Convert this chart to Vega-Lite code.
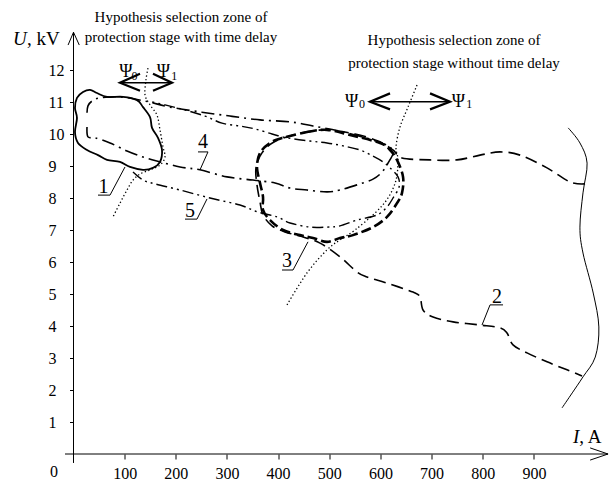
{
  "$schema": "https://vega.github.io/schema/vega-lite/v6.json",
  "width": 532,
  "height": 416,
  "autosize": {"type": "none"},
  "padding": {"left": 73.5, "top": 38, "right": 3.5, "bottom": 26},
  "background": "white",
  "config": {
    "view": {"stroke": null},
    "axis": {"domain": false, "grid": false, "labelFont": "Liberation Serif", "labelFontSize": 16, "labelColor": "#000", "tickColor": "#000", "tickWidth": 1, "labelOverlap": false, "title": null},
    "text": {"font": "Liberation Serif", "color": "#000"}
  },
  "datasets": {
    "c1": [
      {"k":0,"I":6.8,"U":11.13},{"k":1,"I":18.6,"U":11.31},{"k":2,"I":32.3,"U":11.38},{"k":3,"I":45.9,"U":11.28},{"k":4,"I":65.5,"U":11.16},{"k":5,"I":96.8,"U":11.16},{"k":6,"I":124.1,"U":11.06},{"k":7,"I":135.9,"U":10.84},{"k":8,"I":149.6,"U":10.53},{"k":9,"I":153.5,"U":10.19},{"k":10,"I":165.2,"U":9.88},{"k":11,"I":173,"U":9.5},{"k":12,"I":169.1,"U":9.13},{"k":13,"I":155.4,"U":8.94},{"k":14,"I":135.9,"U":8.88},{"k":15,"I":110.5,"U":8.97},{"k":16,"I":90.9,"U":9.13},{"k":17,"I":65.5,"U":9.19},{"k":18,"I":47.9,"U":9.34},{"k":19,"I":26.4,"U":9.5},{"k":20,"I":8.8,"U":9.72},{"k":21,"I":2.9,"U":10.06},{"k":22,"I":6.8,"U":10.5},{"k":23,"I":2.9,"U":10.81}
    ],
    "c2": [
      {"k":0,"I":1000,"U":8.44},{"k":1,"I":970.7,"U":8.5},{"k":2,"I":925.7,"U":8.94},{"k":3,"I":872.9,"U":9.34},{"k":4,"I":833.8,"U":9.44},{"k":5,"I":794.7,"U":9.34},{"k":6,"I":749.7,"U":9.19},{"k":7,"I":696.9,"U":9.19},{"k":8,"I":642.2,"U":9.25},{"k":9,"I":624.6,"U":9.5},{"k":10,"I":595.3,"U":9.78},{"k":11,"I":550.3,"U":10.0},{"k":12,"I":491.7,"U":10.13},{"k":13,"I":437,"U":10.0},{"k":14,"I":392,"U":9.75},{"k":15,"I":368.5,"U":9.41},{"k":16,"I":356.8,"U":8.94},{"k":17,"I":358.7,"U":8.41},{"k":18,"I":364.6,"U":7.88},{"k":19,"I":370.5,"U":7.47},{"k":20,"I":388.1,"U":7.13},{"k":21,"I":413.5,"U":6.94},{"k":22,"I":442.8,"U":6.81},{"k":23,"I":481.9,"U":6.59},{"k":24,"I":521,"U":6.16},{"k":25,"I":554.2,"U":5.69},{"k":26,"I":573.8,"U":5.53},{"k":27,"I":612.9,"U":5.34},{"k":28,"I":663.7,"U":5.06},{"k":29,"I":677.4,"U":4.91},{"k":30,"I":683.3,"U":4.5},{"k":31,"I":702.9,"U":4.28},{"k":32,"I":742,"U":4.13},{"k":33,"I":794.7,"U":4.03},{"k":34,"I":833.8,"U":3.94},{"k":35,"I":847.5,"U":3.78},{"k":36,"I":859.2,"U":3.41},{"k":37,"I":886.6,"U":3.16},{"k":38,"I":925.7,"U":2.88},{"k":39,"I":964.8,"U":2.63},{"k":40,"I":994.1,"U":2.44}
    ],
    "c3": [
      {"k":0,"I":409.6,"U":9.88},{"k":1,"I":456.5,"U":10.06},{"k":2,"I":495.6,"U":10.13},{"k":3,"I":540.6,"U":9.97},{"k":4,"I":599.2,"U":9.72},{"k":5,"I":618.8,"U":9.5},{"k":6,"I":632.4,"U":9.19},{"k":7,"I":644.2,"U":8.66},{"k":8,"I":642.2,"U":8.16},{"k":9,"I":632.4,"U":7.84},{"k":10,"I":612.9,"U":7.41},{"k":11,"I":585.5,"U":7.09},{"k":12,"I":546.4,"U":6.84},{"k":13,"I":521,"U":6.75},{"k":14,"I":495.6,"U":6.63},{"k":15,"I":468.2,"U":6.75},{"k":16,"I":442.8,"U":6.84},{"k":17,"I":409.6,"U":7.0},{"k":18,"I":384.2,"U":7.31},{"k":19,"I":370.5,"U":7.63},{"k":20,"I":370.5,"U":8.03},{"k":21,"I":364.6,"U":8.47},{"k":22,"I":358.7,"U":8.97},{"k":23,"I":364.6,"U":9.41},{"k":24,"I":384.2,"U":9.72}
    ],
    "c4": [
      {"k":0,"I":26.4,"U":10.22},{"k":1,"I":28.3,"U":9.91},{"k":2,"I":42,"U":9.88},{"k":3,"I":71.4,"U":9.72},{"k":4,"I":104.6,"U":9.47},{"k":5,"I":135.9,"U":9.28},{"k":6,"I":169.1,"U":9.13},{"k":7,"I":208.2,"U":8.97},{"k":8,"I":247.3,"U":8.88},{"k":9,"I":300.1,"U":8.66},{"k":10,"I":351,"U":8.56},{"k":11,"I":394,"U":8.47},{"k":12,"I":423.3,"U":8.31},{"k":13,"I":456.5,"U":8.25},{"k":14,"I":495.6,"U":8.19},{"k":15,"I":521,"U":8.25},{"k":16,"I":554.2,"U":8.41},{"k":17,"I":585.5,"U":8.59},{"k":18,"I":603.1,"U":8.81},{"k":19,"I":614.8,"U":9.09},{"k":20,"I":624.6,"U":9.41},{"k":21,"I":614.8,"U":9.63},{"k":22,"I":579.6,"U":9.84},{"k":23,"I":521,"U":10.09},{"k":24,"I":468.2,"U":10.25},{"k":25,"I":423.3,"U":10.38},{"k":26,"I":364.6,"U":10.44},{"k":27,"I":306,"U":10.56},{"k":28,"I":247.3,"U":10.69},{"k":29,"I":188.7,"U":10.84},{"k":30,"I":139.8,"U":11.03},{"k":31,"I":90.9,"U":11.16},{"k":32,"I":51.8,"U":11.13},{"k":33,"I":36.2,"U":11.03},{"k":34,"I":28.3,"U":10.88},{"k":35,"I":26.4,"U":10.66}
    ],
    "c5": [
      {"k":0,"I":116.3,"U":8.81},{"k":1,"I":135.9,"U":8.56},{"k":2,"I":159.3,"U":8.44},{"k":3,"I":208.2,"U":8.25},{"k":4,"I":266.9,"U":8.0},{"k":5,"I":325.5,"U":7.78},{"k":6,"I":360.7,"U":7.56},{"k":7,"I":397.9,"U":7.41},{"k":8,"I":423.3,"U":7.22},{"k":9,"I":462.4,"U":7.09},{"k":10,"I":495.6,"U":7.09},{"k":11,"I":521,"U":7.13},{"k":12,"I":554.2,"U":7.31},{"k":13,"I":593.3,"U":7.47},{"k":14,"I":612.9,"U":7.72},{"k":15,"I":624.6,"U":8.0},{"k":16,"I":636.4,"U":8.34},{"k":17,"I":634.4,"U":8.66},{"k":18,"I":618.8,"U":8.94},{"k":19,"I":605.1,"U":9.13},{"k":20,"I":585.5,"U":9.31},{"k":21,"I":560.1,"U":9.5},{"k":22,"I":526.9,"U":9.63},{"k":23,"I":495.6,"U":9.72},{"k":24,"I":462.4,"U":9.78},{"k":25,"I":417.4,"U":9.88},{"k":26,"I":388.1,"U":10.0},{"k":27,"I":354.8,"U":10.16},{"k":28,"I":325.5,"U":10.25},{"k":29,"I":290.3,"U":10.34},{"k":30,"I":257.1,"U":10.56},{"k":31,"I":218,"U":10.75},{"k":32,"I":178.9,"U":10.91},{"k":33,"I":153.5,"U":11.0}
    ],
    "c6": [
      {"k":0,"I":967,"U":10.19},{"k":1,"I":990,"U":9.72},{"k":2,"I":1004,"U":9.09},{"k":3,"I":996,"U":8.16},{"k":4,"I":990,"U":7.09},{"k":5,"I":996,"U":6.28},{"k":6,"I":1016,"U":5.03},{"k":7,"I":1027,"U":3.97},{"k":8,"I":1020,"U":3.03},{"k":9,"I":996,"U":2.41},{"k":10,"I":975,"U":1.91},{"k":11,"I":955,"U":1.44}
    ],
    "dots": [
      {"g":"a","k":0,"I":145.6,"U":12.06},{"g":"a","k":1,"I":141.7,"U":11.69},{"g":"a","k":2,"I":139.8,"U":11.22},{"g":"a","k":3,"I":149.6,"U":10.91},{"g":"a","k":4,"I":163.2,"U":10.59},{"g":"a","k":5,"I":169.1,"U":10.13},{"g":"a","k":6,"I":175,"U":9.59},{"g":"a","k":7,"I":178.9,"U":9.28},{"g":"a","k":8,"I":169.1,"U":9.03},{"g":"a","k":9,"I":149.6,"U":8.88},{"g":"a","k":10,"I":130,"U":8.75},{"g":"a","k":11,"I":116.3,"U":8.56},{"g":"a","k":12,"I":104.6,"U":8.25},{"g":"a","k":13,"I":90.9,"U":7.84},{"g":"a","k":14,"I":77.2,"U":7.41},
      {"g":"b","k":0,"I":671.5,"U":11.53},{"g":"b","k":1,"I":653.9,"U":10.84},{"g":"b","k":2,"I":638.3,"U":10.22},{"g":"b","k":3,"I":630.5,"U":9.59},{"g":"b","k":4,"I":634.4,"U":9.19},{"g":"b","k":5,"I":630.5,"U":8.56},{"g":"b","k":6,"I":614.8,"U":8.0},{"g":"b","k":7,"I":589.4,"U":7.53},{"g":"b","k":8,"I":550.3,"U":7.0},{"g":"b","k":9,"I":521,"U":6.69},{"g":"b","k":10,"I":495.6,"U":6.38},{"g":"b","k":11,"I":456.5,"U":5.66},{"g":"b","k":12,"I":417.4,"U":4.66}
    ],
    "axes": [
      {"g":"ay","k":0,"I":0,"U":-0.28},{"g":"ay","k":1,"I":0,"U":13.18},
      {"g":"ayh","k":0,"I":-10.6,"U":12.78},{"g":"ayh","k":1,"I":0,"U":13.18},{"g":"ayh","k":2,"I":11.3,"U":12.78},
      {"g":"ax","k":0,"I":-16.6,"U":0},{"g":"ax","k":1,"I":1045,"U":0},
      {"g":"axh","k":0,"I":1010,"U":0.19},{"g":"axh","k":1,"I":1045,"U":0},{"g":"axh","k":2,"I":1010,"U":-0.19}
    ],
    "shafts": [
      {"g":"a1","k":0,"I":90.9,"U":11.6},{"g":"a1","k":1,"I":192.5,"U":11.6},
      {"g":"a2","k":0,"I":579.6,"U":11.01},{"g":"a2","k":1,"I":736,"U":11.01}
    ],
    "heads": [
      {"g":"a1l","k":0,"I":130,"U":11.88},{"g":"a1l","k":1,"I":90.9,"U":11.6},{"g":"a1l","k":2,"I":130,"U":11.35},
      {"g":"a1r","k":0,"I":155.4,"U":11.88},{"g":"a1r","k":1,"I":192.5,"U":11.6},{"g":"a1r","k":2,"I":155.4,"U":11.35},
      {"g":"a2l","k":0,"I":618.8,"U":11.27},{"g":"a2l","k":1,"I":579.6,"U":11.01},{"g":"a2l","k":2,"I":618.8,"U":10.77},
      {"g":"a2r","k":0,"I":697,"U":11.27},{"g":"a2r","k":1,"I":736,"U":11.01},{"g":"a2r","k":2,"I":697,"U":10.77}
    ],
    "leaders": [
      {"g":"l1","k":0,"I":47.9,"U":8.09},{"g":"l1","k":1,"I":71.4,"U":8.09},{"g":"l1","k":2,"I":100.7,"U":8.97},
      {"g":"l4","k":0,"I":243.4,"U":9.44},{"g":"l4","k":1,"I":262.9,"U":9.44},{"g":"l4","k":2,"I":247.3,"U":8.88},
      {"g":"l5","k":0,"I":218,"U":7.34},{"g":"l5","k":1,"I":241.4,"U":7.34},{"g":"l5","k":2,"I":261,"U":7.97},
      {"g":"l3","k":0,"I":407.6,"U":5.75},{"g":"l3","k":1,"I":429.1,"U":5.75},{"g":"l3","k":2,"I":458.4,"U":6.63},
      {"g":"l2","k":0,"I":839.7,"U":4.66},{"g":"l2","k":1,"I":814.3,"U":4.66},{"g":"l2","k":2,"I":798.6,"U":4.03}
    ],
    "numlabels": [
      {"t":"1","I":58.6,"U":8.16},{"t":"4","I":253.2,"U":9.56},{"t":"5","I":227.8,"U":7.41},{"t":"3","I":417.4,"U":5.84},{"t":"2","I":828,"U":4.72}
    ],
    "psi": [
      {"t":"Ψ","I":102.3,"U":11.78},{"t":"Ψ","I":175.6,"U":11.78},{"t":"Ψ","I":543.9,"U":10.85},{"t":"Ψ","I":752.3,"U":10.85}
    ],
    "subs": [
      {"t":"0","I":119.3,"U":11.69},{"t":"1","I":196.9,"U":11.69},{"t":"0","I":564,"U":10.8},{"t":"1","I":773.8,"U":10.8}
    ],
    "titles": [
      {"t":"Hypothesis selection zone of","I":210.2,"U":13.5},
      {"t":"protection stage with time delay","I":210.2,"U":12.88},
      {"t":"Hypothesis selection zone of","I":743.9,"U":12.77},
      {"t":"protection stage without time delay","I":743.9,"U":12.05}
    ],
    "ital": [{"t":"U","I":-118.3,"U":12.78},{"t":"I","I":976.5,"U":0.34}],
    "norm": [{"t":", kV","I":-90.9,"U":12.78},{"t":", A","I":988.7,"U":0.34}],
    "zero": [{"t":"0","I":-38.1,"U":-0.73}]
  },
  "encoding": {
    "x": {"field": "I", "type": "quantitative", "scale": {"domain": [0, 1040], "nice": false, "zero": false},
      "axis": {"values": [100,200,300,400,500,600,700,800,900], "tickSize": 5, "labelPadding": 6}},
    "y": {"field": "U", "type": "quantitative", "scale": {"domain": [0, 13], "nice": false, "zero": false},
      "axis": {"values": [1,2,3,4,5,6,7,8,9,10,11,12], "tickSize": 4, "labelPadding": 21.5, "labelAlign": "left"}}
  },
  "layer": [
    {"data": {"name": "axes"}, "mark": {"type": "line", "color": "#000", "strokeWidth": 1, "interpolate": "linear"},
      "encoding": {"detail": {"field": "g"}, "order": {"field": "k"}}},
    {"data": {"name": "c6"}, "mark": {"type": "line", "color": "#000", "strokeWidth": 1, "interpolate": "cardinal"},
      "encoding": {"order": {"field": "k"}}},
    {"data": {"name": "dots"}, "mark": {"type": "line", "color": "#000", "strokeWidth": 1.3, "strokeDash": [1.3, 2.4], "interpolate": "cardinal"},
      "encoding": {"detail": {"field": "g"}, "order": {"field": "k"}}},
    {"data": {"name": "c5"}, "mark": {"type": "line", "color": "#000", "strokeWidth": 1.4, "strokeDash": [11, 4, 2, 4, 2, 4], "interpolate": "cardinal"},
      "encoding": {"order": {"field": "k"}}},
    {"data": {"name": "c4"}, "mark": {"type": "line", "color": "#000", "strokeWidth": 1.6, "strokeDash": [13, 5, 2, 5], "interpolate": "cardinal"},
      "encoding": {"order": {"field": "k"}}},
    {"data": {"name": "c2"}, "mark": {"type": "line", "color": "#000", "strokeWidth": 1.6, "strokeDash": [12, 6], "interpolate": "cardinal"},
      "encoding": {"order": {"field": "k"}}},
    {"data": {"name": "c3"}, "mark": {"type": "line", "color": "#000", "strokeWidth": 2.6, "strokeDash": [10, 4], "interpolate": "cardinal-closed"},
      "encoding": {"order": {"field": "k"}}},
    {"data": {"name": "c1"}, "mark": {"type": "line", "color": "#000", "strokeWidth": 1.8, "interpolate": "cardinal-closed"},
      "encoding": {"order": {"field": "k"}}},
    {"data": {"name": "leaders"}, "mark": {"type": "line", "color": "#000", "strokeWidth": 1, "interpolate": "linear"},
      "encoding": {"detail": {"field": "g"}, "order": {"field": "k"}}},
    {"data": {"name": "shafts"}, "mark": {"type": "line", "color": "#000", "strokeWidth": 1.4, "interpolate": "linear"},
      "encoding": {"detail": {"field": "g"}, "order": {"field": "k"}}},
    {"data": {"name": "heads"}, "mark": {"type": "line", "color": "#000", "strokeWidth": 2.2, "interpolate": "linear"},
      "encoding": {"detail": {"field": "g"}, "order": {"field": "k"}}},
    {"data": {"name": "numlabels"}, "mark": {"type": "text", "fontSize": 20, "align": "center", "baseline": "alphabetic"},
      "encoding": {"text": {"field": "t"}}},
    {"data": {"name": "psi"}, "mark": {"type": "text", "fontSize": 18, "align": "center", "baseline": "alphabetic"},
      "encoding": {"text": {"field": "t"}}},
    {"data": {"name": "subs"}, "mark": {"type": "text", "fontSize": 12, "align": "center", "baseline": "alphabetic"},
      "encoding": {"text": {"field": "t"}}},
    {"data": {"name": "titles"}, "mark": {"type": "text", "fontSize": 15, "align": "center", "baseline": "alphabetic"},
      "encoding": {"text": {"field": "t"}}},
    {"data": {"name": "ital"}, "mark": {"type": "text", "fontSize": 19, "fontStyle": "italic", "align": "left", "baseline": "alphabetic"},
      "encoding": {"text": {"field": "t"}}},
    {"data": {"name": "norm"}, "mark": {"type": "text", "fontSize": 19, "align": "left", "baseline": "alphabetic"},
      "encoding": {"text": {"field": "t"}}},
    {"data": {"name": "zero"}, "mark": {"type": "text", "fontSize": 16, "align": "center", "baseline": "alphabetic"},
      "encoding": {"text": {"field": "t"}}}
  ]
}
